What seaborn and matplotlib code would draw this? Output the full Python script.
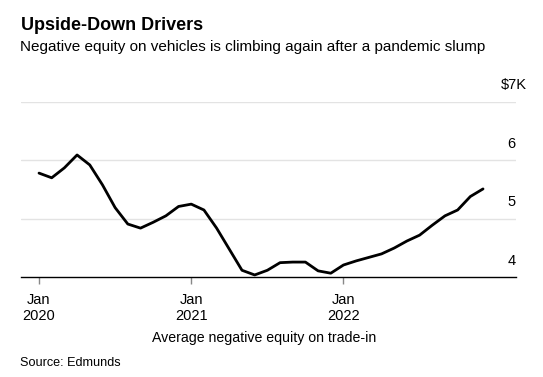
import matplotlib
matplotlib.use("Agg")
import matplotlib.pyplot as plt
import seaborn as sns
import pandas as pd
from matplotlib.transforms import offset_copy

# Data: average negative equity on trade-in ($K), monthly Jan 2020 - Dec 2022
months = list(range(36))
values = [5.78, 5.70, 5.87, 6.09, 5.92, 5.58, 5.19, 4.91, 4.84, 4.94, 5.05, 5.21,
          5.25, 5.15, 4.84, 4.48, 4.12, 4.04, 4.12, 4.25, 4.26, 4.26, 4.11, 4.07,
          4.21, 4.28, 4.34, 4.40, 4.50, 4.62, 4.72, 4.89, 5.05, 5.15, 5.38, 5.51]
xtick_pos = [0, 12, 24]
xtick_labels = ["Jan\n2020", "Jan\n2021", "Jan\n2022"]
ytick_vals = [4, 5, 6, 7]
ytick_labels = ["4", "5", "6", "$7K"]

sns.set_theme(style="white")
plt.rcParams['font.family'] = ['Liberation Sans', 'DejaVu Sans']
plt.rcParams['text.color'] = 'black'

W, H = 543, 377
fig = plt.figure(figsize=(W / 100, H / 100), dpi=100)
ax = fig.add_axes([21 / W, 1 - 277.3 / H, (515.5 - 21) / W, (277.3 - 101.7) / H])

df = pd.DataFrame({"month": months, "value": values})
sns.lineplot(data=df, x="month", y="value", ax=ax, color="black", linewidth=2.0)

XMAX = 37.56
ax.set_xlim(-1.42, XMAX)
ax.set_ylim(4, 7)

for v in ytick_vals[1:]:
    ax.axhline(v, color="#e3e3e3", linewidth=1.0, zorder=0)

for s in ["top", "right", "left"]:
    ax.spines[s].set_visible(False)
ax.spines["bottom"].set_color("black")
ax.spines["bottom"].set_linewidth(1.0)

ax.set_yticks([])
ax.set_xticks(xtick_pos)
ax.set_xticklabels(xtick_labels, fontsize=10.5, linespacing=1.25, color="black")
ax.tick_params(axis="x", length=5, width=1, color="#888888", pad=6, bottom=True)
ax.set_xlabel("")
ax.set_ylabel("")

# right-side y labels above gridlines
for v, lab in zip(ytick_vals, ytick_labels):
    tr = offset_copy(ax.transData, fig=fig, x=0, y=9.5 * 72 / 100, units="points")
    if lab.startswith("$"):
        ax.text(XMAX - (515.5 - 501) / 12.68, v, lab, ha="left", va="bottom",
                fontsize=10.5, transform=tr, clip_on=False)
    else:
        ax.text(XMAX, v, lab, ha="right", va="bottom", fontsize=10.5,
                transform=tr, clip_on=False)

fig.text(21 / W, 1 - 30 / H, "Upside-Down Drivers", fontsize=13,
         fontweight="bold", ha="left", va="baseline")
fig.text(20 / W, 1 - 51.5 / H, "Negative equity on vehicles is climbing again after a pandemic slump",
         fontsize=11, ha="left", va="baseline")
fig.text(264 / W, 1 - 342 / H, "Average negative equity on trade-in",
         fontsize=10.2, ha="center", va="baseline")
fig.text(20 / W, 1 - 365.5 / H, "Source: Edmunds", fontsize=9.1,
         ha="left", va="baseline")

fig.savefig("out.png", dpi=100)
